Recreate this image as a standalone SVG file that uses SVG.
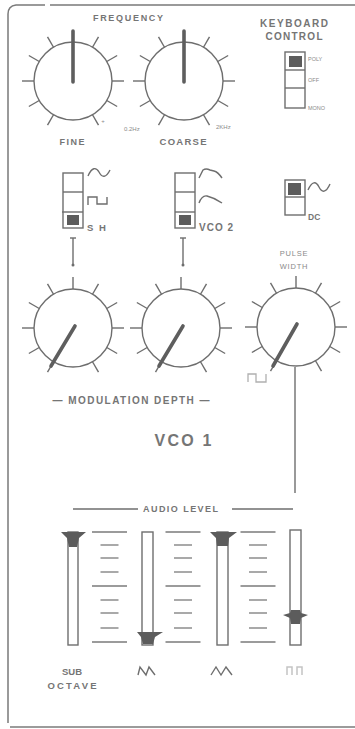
<svg xmlns="http://www.w3.org/2000/svg" width="355" height="729" viewBox="0 0 355 729">
<style>
.ln{stroke:#6e6e6e;stroke-width:1.4;fill:none}
.bd{stroke:#7a7a7a;stroke-width:1.5;fill:none}
.ptr{stroke:#5e5e5e;stroke-width:3.6;stroke-linecap:round}
.tx{font-family:"Liberation Sans",Arial,sans-serif;fill:#757575;font-weight:bold}
.sm{font-family:"Liberation Sans",Arial,sans-serif;fill:#8a8a8a}
.dk{fill:#5c5c5c}
.sc{stroke:#7a7a7a;stroke-width:1.3}
</style>
<defs>
<g id="dial">
<circle r="39" class="ln"/>
<g class="ln">
<line y1="-39" y2="-51" transform="rotate(-150)"/>
<line y1="-39" y2="-51" transform="rotate(-120)"/>
<line y1="-39" y2="-51" transform="rotate(-90)"/>
<line y1="-39" y2="-51" transform="rotate(-60)"/>
<line y1="-39" y2="-51" transform="rotate(-30)"/>
<line y1="-39" y2="-51"/>
<line y1="-39" y2="-51" transform="rotate(30)"/>
<line y1="-39" y2="-51" transform="rotate(60)"/>
<line y1="-39" y2="-51" transform="rotate(90)"/>
<line y1="-39" y2="-51" transform="rotate(120)"/>
<line y1="-39" y2="-51" transform="rotate(150)"/>
</g>
</g>
<g id="scale" class="sc">
<line x1="-17.5" x2="17.5" y1="532" y2="532"/>
<line x1="-9" x2="9" y1="545" y2="545"/>
<line x1="-9" x2="9" y1="558" y2="558"/>
<line x1="-9" x2="9" y1="572" y2="572"/>
<line x1="-17.5" x2="17.5" y1="586" y2="586"/>
<line x1="-9" x2="9" y1="600" y2="600"/>
<line x1="-9" x2="9" y1="613" y2="613"/>
<line x1="-9" x2="9" y1="628" y2="628"/>
<line x1="-17.5" x2="17.5" y1="642" y2="642"/>
</g>
</defs>

<g id="panel-border">
<path class="bd" d="M8,723 V14 Q8,6 16,5 H45 M50,5 H355"/>
<path class="bd" d="M10,727 H355"/>
</g>

<g id="frequency-label"><text class="tx" x="128" y="21" font-size="9" text-anchor="middle" textLength="70">FREQUENCY</text></g>

<g id="knob-fine">
<use href="#dial" transform="translate(73,81)"/>
<line class="ptr" x1="73" y1="82" x2="73" y2="31"/>
<text class="sm" x="103" y="123" font-size="6" text-anchor="middle">+</text>
<text class="tx" x="72" y="145" font-size="9" text-anchor="middle" textLength="25">FINE</text>
</g>

<g id="knob-coarse">
<use href="#dial" transform="translate(184,81)"/>
<line class="ptr" x1="184" y1="82" x2="184" y2="31"/>
<text class="sm" x="124" y="131" font-size="6">0.2Hz</text>
<text class="tx" x="183" y="145" font-size="9.5" text-anchor="middle" textLength="47">COARSE</text>
<text class="sm" x="216" y="129" font-size="6">2KHz</text>
</g>

<g id="keyboard-control">
<text class="tx" x="294" y="27" font-size="10" text-anchor="middle" textLength="68">KEYBOARD</text>
<text class="tx" x="294" y="40" font-size="10" text-anchor="middle" textLength="57">CONTROL</text>
<rect class="ln" x="285" y="52" width="20" height="56"/>
<line class="ln" x1="285" y1="70" x2="305" y2="70"/>
<line class="ln" x1="285" y1="88" x2="305" y2="88"/>
<rect class="dk" x="289" y="56" width="13" height="11"/>
<text class="sm" x="308" y="61" font-size="5.5">POLY</text>
<text class="sm" x="308" y="82" font-size="5.5">OFF</text>
<text class="sm" x="308" y="110" font-size="5.5">MONO</text>
</g>

<g id="switch-sh">
<rect class="ln" x="63" y="173" width="20" height="55"/>
<line class="ln" x1="63" y1="192" x2="83" y2="192"/>
<line class="ln" x1="62" y1="212" x2="83" y2="212"/>
<rect class="dk" x="67" y="215" width="12" height="10"/>
<path class="ln" d="M88,176 C92,167 96,167 99,172 C102,178 106,178 110,170"/>
<path class="ln" d="M88,205 V197 H97 V204 H107 V197"/>
<text class="tx" x="87" y="231" font-size="9.5" letter-spacing="1.5">S H</text>
</g>

<g id="switch-vco2">
<rect class="ln" x="175" y="173" width="20" height="55"/>
<line class="ln" x1="175" y1="192" x2="195" y2="192"/>
<line class="ln" x1="175" y1="212" x2="195" y2="212"/>
<rect class="dk" x="179" y="215" width="12" height="10"/>
<path class="ln" d="M199,178 L203,170 Q206,168 210,170 L214,171 Q218,172 222,178"/>
<path class="ln" d="M199,203 Q202,195 207,196 Q215,198 222,203"/>
<text class="tx" x="199" y="231" font-size="10" letter-spacing="1">VCO 2</text>
</g>

<g id="switch-dc">
<rect class="ln" x="285" y="180" width="20" height="35"/>
<line class="ln" x1="285" y1="197" x2="305" y2="197"/>
<rect class="dk" x="288" y="183" width="13" height="12"/>
<path class="ln" d="M308,190 C312,181 316,181 319,187 C322,193 326,193 330,184"/>
<text class="tx" x="308" y="220" font-size="8.5">DC</text>
</g>

<g id="pulse-width-label">
<text class="sm" x="294" y="256" font-size="7.5" text-anchor="middle" letter-spacing="0.8">PULSE</text>
<text class="sm" x="294" y="269" font-size="7.5" text-anchor="middle" letter-spacing="0.8">WIDTH</text>
</g>

<g id="knob-mod-1">
<use href="#dial" transform="translate(73,328)"/>
<line class="ptr" x1="75" y1="326" x2="51" y2="366"/>
</g>
<g id="knob-mod-2">
<use href="#dial" transform="translate(181,328)"/>
<line class="ptr" x1="183" y1="326" x2="159" y2="366"/>
</g>
<g id="knob-pulse-width">
<use href="#dial" transform="translate(296,327)"/>
<line class="ptr" x1="297" y1="324" x2="273" y2="366"/>
<path d="M248,382 V374 H256 V382 H266 V374" stroke="#b0b0b0" stroke-width="1.3" fill="none"/>
</g>

<g id="connectors">
<line class="ln" x1="73" y1="238" x2="73" y2="265"/>
<line class="ln" x1="70" y1="238" x2="76" y2="238"/>
<circle cx="73" cy="265" r="1.5" fill="#6e6e6e"/>
<line class="ln" x1="183" y1="238" x2="183" y2="265"/>
<line class="ln" x1="180" y1="238" x2="186" y2="238"/>
<circle cx="183" cy="265" r="1.5" fill="#6e6e6e"/>
<line class="ln" x1="295" y1="367" x2="295" y2="493"/>
<line class="ln" x1="73" y1="509" x2="138" y2="509"/>
<line class="ln" x1="232" y1="509" x2="293" y2="509"/>
</g>

<g id="modulation-depth-label"><text class="tx" x="131" y="404" font-size="10" text-anchor="middle" textLength="157">— MODULATION DEPTH —</text></g>
<g id="vco1-title"><text class="tx" x="183" y="446" font-size="16" text-anchor="middle" textLength="57">VCO 1</text></g>
<g id="audio-level-label"><text class="tx" x="180.5" y="512" font-size="9" text-anchor="middle" textLength="75">AUDIO LEVEL</text></g>

<g id="scales">
<use href="#scale" transform="translate(109.5,0)"/>
<use href="#scale" transform="translate(183,0)"/>
<use href="#scale" transform="translate(258,0)"/>
</g>

<g id="slider-sub-octave">
<rect class="ln" x="68" y="532" width="10" height="113"/>
<polygon class="dk" points="61,532 86,532 79,538 77,547 69,547 67,538"/>
<text class="tx" x="72" y="675" font-size="9.5" text-anchor="middle">SUB</text>
<text class="tx" x="72" y="689" font-size="9.5" text-anchor="middle" textLength="49">OCTAVE</text>
</g>
<g id="slider-saw">
<rect class="ln" x="142" y="532" width="11" height="113"/>
<polygon class="dk" points="137,632 163,632 155,637 153,644 143,644 141,637"/>
<path class="ln" d="M138,675 L140,667 L146,675 L149,667 L155,675"/>
</g>
<g id="slider-triangle">
<rect class="ln" x="217" y="532" width="11" height="113"/>
<polygon class="dk" points="210,532 237,532 229,538 228,546 217,546 216,538"/>
<path class="ln" d="M211,675 L216,667 L221,675 L226,667 L232,675"/>
</g>
<g id="slider-pulse">
<rect class="ln" x="290" y="530" width="11" height="115"/>
<polygon class="dk" points="291,610 300,610 301,613 308,615 301,618 300,624 291,624 290,618 283,615 290,613"/>
<path d="M287,675 V667 H292 V675 M297,675 V667 H302 V675" stroke="#c4c4c4" stroke-width="1.5" fill="none"/>
</g>
</svg>
